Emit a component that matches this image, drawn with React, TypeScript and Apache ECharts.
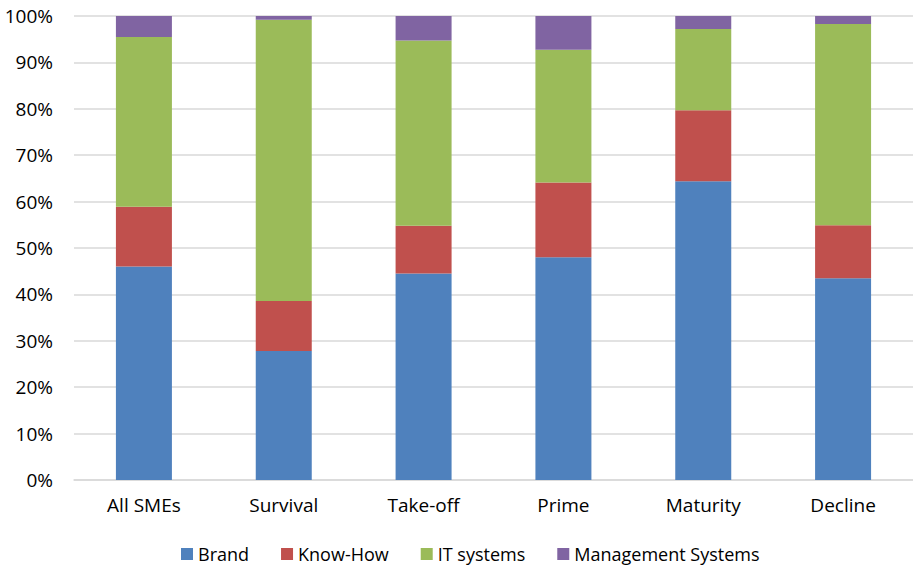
import React, { useEffect, useRef } from "react";
import * as echarts from "echarts";

const categories = ["All SMEs", "Survival", "Take-off", "Prime", "Maturity", "Decline"];
const brand = [46.0, 27.8, 44.5, 48.0, 64.4, 43.5];
const knowHow = [12.9, 10.8, 10.3, 16.1, 15.3, 11.4];
const itSystems = [36.6, 60.6, 39.9, 28.6, 17.5, 43.4];
const mgmtSystems = [4.5, 0.8, 5.3, 7.3, 2.8, 1.7];
const seriesNames = ["Brand", "Know-How", "IT systems", "Management Systems"];
const colors = ["#4F81BD", "#C0504D", "#9BBB59", "#8064A2"];

export default function App() {
  const ref = useRef<HTMLDivElement>(null);
  useEffect(() => {
    if (!ref.current) return;
    const chart = echarts.init(ref.current, undefined, { renderer: "svg" });
    const font = "'Open Sans', 'Liberation Sans', sans-serif";
    const data = [brand, knowHow, itSystems, mgmtSystems];
    chart.setOption({
      animation: false,
      color: colors,
      textStyle: { fontFamily: font },
      grid: { left: 74, top: 16, width: 846, height: 464, containLabel: false },
      legend: {
        left: 181,
        top: 545,
        padding: 0,
        itemWidth: 12,
        itemHeight: 12,
        itemGap: 32,
        icon: "rect",
        textStyle: { fontSize: 18, color: "#000", fontFamily: font },
        data: seriesNames,
      },
      xAxis: {
        type: "category",
        data: categories,
        axisLine: { lineStyle: { color: "#d9d9d9", width: 1.5 } },
        axisTick: { show: false },
        axisLabel: { color: "#000", fontSize: 19, margin: 15, fontFamily: font },
      },
      yAxis: {
        type: "value",
        min: 0,
        max: 100,
        interval: 10,
        axisLine: { show: false },
        axisTick: { show: false },
        axisLabel: { color: "#000", fontSize: 19, margin: 21, formatter: "{value}%", fontFamily: font },
        splitLine: { lineStyle: { color: "#d9d9d9", width: 1.5 } },
      },
      series: seriesNames.map((name, i) => ({
        name,
        type: "bar",
        stack: "total",
        barWidth: 56,
        data: data[i],
        itemStyle: { color: colors[i] },
      })),
    });
    return () => chart.dispose();
  }, []);
  return (
    <div
      ref={ref}
      style={{ position: "absolute", left: 0, top: 0, width: 913, height: 568, overflow: "hidden" }}
    />
  );
}
